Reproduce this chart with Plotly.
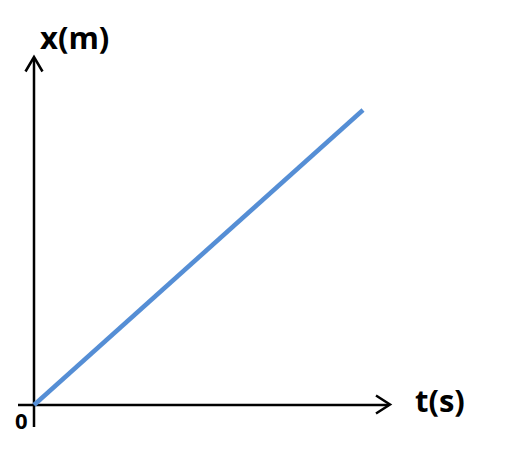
import plotly.graph_objects as go

# Data: uniform motion, x proportional to t
t_values = [0, 10]
x_values = [0, 10]

OFF = 8                          # default page body margin
W, H = 506 - OFF, 450 - OFF
X0_PX, Y0_PX = 34, 405          # origin in page pixels
SX, SY = 32.9, 29.5             # pixels per unit

def dx(px):
    return (px - X0_PX) / SX

def dy(py):
    return (Y0_PX - py) / SY

fig = go.Figure()

axis_style = dict(color="black", width=2.5)

# x axis line + arrowhead
fig.add_trace(go.Scatter(x=[dx(18), dx(389)], y=[0, 0], mode="lines",
                         line=axis_style, hoverinfo="skip", showlegend=False))
fig.add_trace(go.Scatter(x=[dx(376), dx(390), dx(376)], y=[dy(395.5), dy(404.5), dy(413.5)],
                         mode="lines", line=axis_style, hoverinfo="skip", showlegend=False))
# y axis line + arrowhead
fig.add_trace(go.Scatter(x=[0, 0], y=[dy(427), dy(58)], mode="lines",
                         line=axis_style, hoverinfo="skip", showlegend=False))
fig.add_trace(go.Scatter(x=[dx(25.5), dx(34), dx(42.5)], y=[dy(71.5), dy(57), dy(71.5)],
                         mode="lines", line=axis_style, hoverinfo="skip", showlegend=False))

# data line
fig.add_trace(go.Scatter(x=t_values, y=x_values, mode="lines",
                         line=dict(color="#558ED5", width=4.5),
                         showlegend=False))

font_family = "Open Sans, Liberation Sans, Arial"
fig.add_annotation(x=dx(74), y=dy(37), xref="x", yref="y", text="<b>x(m)</b>",
                   showarrow=False, font=dict(size=31, color="black", family=font_family))
fig.add_annotation(x=dx(440), y=dy(400), xref="x", yref="y", text="<b>t(s)</b>",
                   showarrow=False, font=dict(size=31, color="black", family=font_family))
fig.add_annotation(x=dx(21), y=dy(420), xref="x", yref="y", text="<b>0</b>",
                   showarrow=False, font=dict(size=22, color="black", family=font_family))

fig.update_layout(
    width=W, height=H,
    margin=dict(l=0, r=0, t=0, b=0),
    paper_bgcolor="white", plot_bgcolor="white",
    xaxis=dict(range=[dx(OFF), dx(OFF + W)], visible=False, fixedrange=True),
    yaxis=dict(range=[dy(OFF + H), dy(OFF)], visible=False, fixedrange=True),
    showlegend=False,
)

fig.write_html("out.html")
